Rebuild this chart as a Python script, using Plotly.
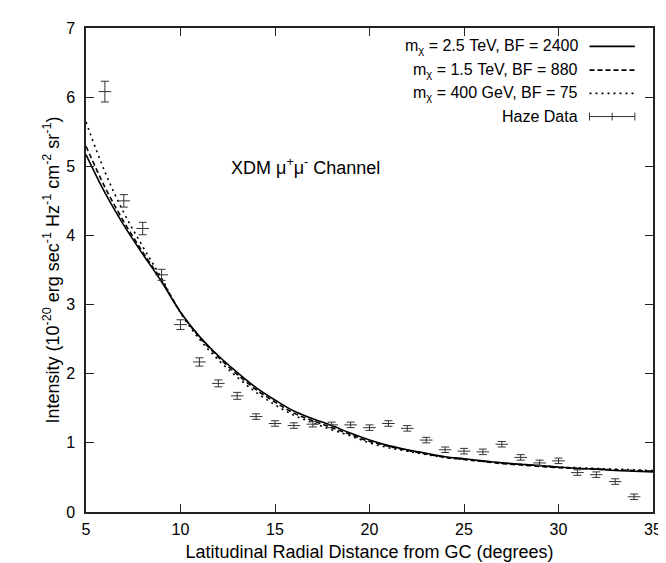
import plotly.graph_objects as go

# Haze data
haze_x = [6, 7, 8, 9, 10, 11, 12, 13, 14, 15, 16, 17, 18, 19, 20, 21, 22, 23, 24,
          25, 26, 27, 28, 29, 30, 31, 32, 33, 34]
haze_y = [6.08, 4.50, 4.10, 3.43, 2.71, 2.17, 1.86, 1.68, 1.38, 1.28, 1.25, 1.27, 1.26,
          1.26, 1.22, 1.28, 1.21, 1.04, 0.90, 0.88, 0.87, 0.98, 0.79, 0.71, 0.74,
          0.57, 0.54, 0.44, 0.22]
haze_err = [0.15, 0.09, 0.09, 0.08, 0.07, 0.06, 0.05, 0.05, 0.04, 0.04, 0.04, 0.04, 0.04,
            0.04, 0.04, 0.04, 0.04, 0.04, 0.04, 0.04, 0.04, 0.04, 0.04, 0.04, 0.04,
            0.04, 0.04, 0.04, 0.04]

# Model curves (read at integer degrees)
curve_x = [5, 6, 7, 8, 9, 10, 11, 12, 13, 14, 15, 16, 17, 18, 19, 20, 21, 22, 23, 24,
           25, 26, 27, 28, 29, 30, 31, 32, 33, 34, 35]
m2500_y = [5.17, 4.62, 4.15, 3.73, 3.33, 2.89, 2.54, 2.26, 2.02, 1.80, 1.62, 1.46, 1.35,
           1.25, 1.14, 1.04, 0.96, 0.90, 0.85, 0.80, 0.77, 0.74, 0.71, 0.69, 0.67,
           0.65, 0.63, 0.62, 0.60, 0.59, 0.58]
m1500_y = [5.29, 4.70, 4.20, 3.76, 3.35, 2.89, 2.53, 2.24, 1.99, 1.77, 1.59, 1.43, 1.32,
           1.22, 1.12, 1.02, 0.95, 0.89, 0.84, 0.79, 0.76, 0.73, 0.70, 0.68, 0.66,
           0.64, 0.63, 0.62, 0.61, 0.60, 0.59]
m400_y = [5.64, 4.92, 4.33, 3.84, 3.38, 2.88, 2.50, 2.20, 1.95, 1.73, 1.55, 1.40, 1.29,
          1.19, 1.10, 1.00, 0.93, 0.88, 0.83, 0.79, 0.76, 0.73, 0.71, 0.69, 0.67,
          0.65, 0.64, 0.63, 0.62, 0.61, 0.60]

legend_labels = ["m<sub>χ</sub> = 2.5 TeV, BF = 2400",
                 "m<sub>χ</sub> = 1.5 TeV, BF = 880",
                 "m<sub>χ</sub> = 400 GeV, BF = 75",
                 "Haze Data"]
x_ticks = [5, 10, 15, 20, 25, 30, 35]
y_ticks = [0, 1, 2, 3, 4, 5, 6, 7]

FONT = "Liberation Sans, Arial, Helvetica, sans-serif"
DASHES = ["solid", "5px,3px", "2px,4px"]
fig = go.Figure()

for dash, ys in zip(DASHES, [m2500_y, m1500_y, m400_y]):
    fig.add_trace(go.Scatter(x=curve_x, y=ys, mode="lines", line_shape="spline",
                             line=dict(color="black", width=1.6, dash=dash),
                             showlegend=False, hoverinfo="skip"))

fig.add_trace(go.Scatter(
    x=haze_x, y=haze_y, mode="markers",
    marker=dict(symbol="line-ew", size=9, line=dict(color="#333", width=1)),
    error_y=dict(type="data", array=haze_err, color="#333", thickness=1, width=4),
    showlegend=False))

# Manual legend (text right-aligned, sample on the right)
row_y = [0.962, 0.913, 0.865, 0.817]
shapes = []
annotations = []
for i, lab in enumerate(legend_labels):
    annotations.append(dict(xref="paper", yref="paper", x=0.872, y=row_y[i],
                            xanchor="right", yanchor="middle", text=lab,
                            showarrow=False, font=dict(family=FONT, size=16, color="black")))
    if i < 3:
        shapes.append(dict(type="line", xref="paper", yref="paper",
                           x0=0.888, x1=0.968, y0=row_y[i], y1=row_y[i],
                           line=dict(color="black", width=1.6, dash=DASHES[i])))
    else:
        shapes.append(dict(type="line", xref="paper", yref="paper",
                           x0=0.888, x1=0.968, y0=row_y[i], y1=row_y[i],
                           line=dict(color="#333", width=1)))
        for xx in (0.888, 0.928, 0.968):
            shapes.append(dict(type="line", xref="paper", yref="paper",
                               x0=xx, x1=xx, y0=row_y[i] - 0.008, y1=row_y[i] + 0.008,
                               line=dict(color="#333", width=1)))

annotations.append(dict(xref="x", yref="y", x=12.55, y=5.0, xanchor="left",
                        yanchor="middle", showarrow=False,
                        text="XDM μ<sup>+</sup>μ<sup>-</sup> Channel",
                        font=dict(family=FONT, size=18, color="black")))

fig.update_layout(
    width=666, height=563,
    margin=dict(l=78, r=20, t=15, b=52),
    plot_bgcolor="white", paper_bgcolor="white",
    font=dict(family=FONT, size=16, color="black"),
    shapes=shapes, annotations=annotations,
    xaxis=dict(range=[5, 35], tickvals=x_ticks, ticks="inside", ticklen=8,
               tickcolor="#222", showline=True, linecolor="#222", linewidth=1.5,
               mirror="ticks", showgrid=False, zeroline=False,
               ticklabelstandoff=2,
               title=dict(text="Latitudinal Radial Distance from GC (degrees)",
                          font=dict(size=18), standoff=8)),
    yaxis=dict(range=[0, 7], tickvals=y_ticks, ticks="inside", ticklen=8,
               tickcolor="#222", showline=True, linecolor="#222", linewidth=1.5,
               mirror="ticks", showgrid=False, zeroline=False,
               ticklabelstandoff=6,
               title=dict(text="Intensity (10<sup>-20</sup> erg sec<sup>-1</sup> Hz<sup>-1</sup> cm<sup>-2</sup> sr<sup>-1</sup>)",
                          font=dict(size=18), standoff=2)),
)

fig.write_html("out.html")
